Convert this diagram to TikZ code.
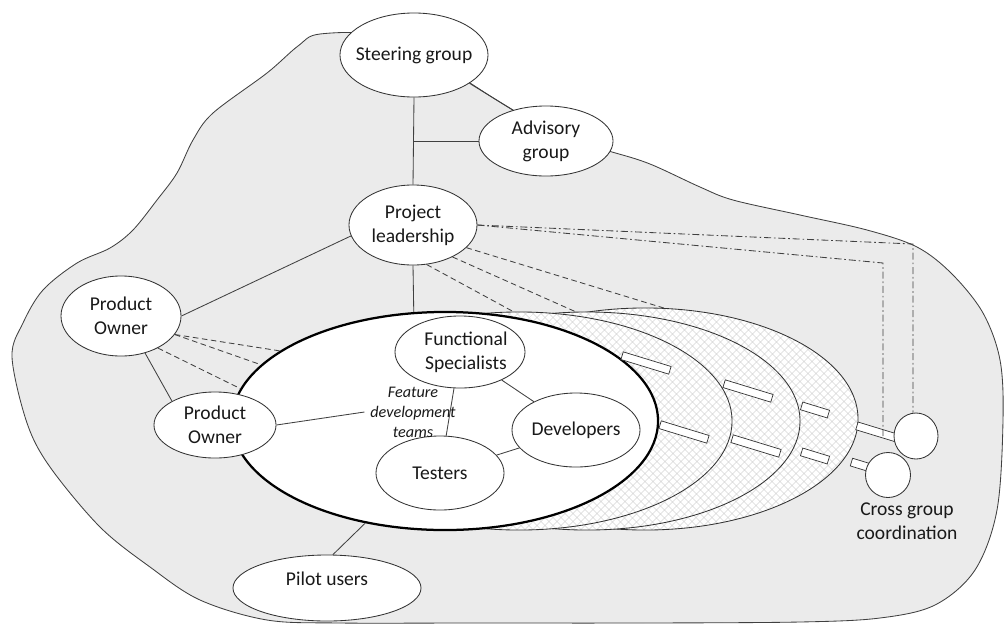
\documentclass[tikz,border=0pt]{standalone}
\usepackage{fontspec}
\setmainfont{Carlito}
\usetikzlibrary{shapes.geometric,patterns.meta}
\newcommand\lblfont{\fontsize{13.9}{17}\selectfont}
\newcommand\ftfont{\fontsize{11.5}{14.2}\selectfont\itshape}
\begin{document}
\begin{tikzpicture}[x=0.025cm,y=-0.025cm,
  bub/.style={ellipse, draw=black!80, fill=white, line width=0.6pt, inner sep=0pt},
  txt/.style={text=black!90, font=\lblfont, align=center, inner sep=0pt},
  conn/.style={draw=black!75, line width=0.6pt},
  dsh/.style={conn, dash pattern=on 4pt off 2.5pt},
  dshdot/.style={conn, dash pattern=on 5pt off 2pt on 1.2pt off 2pt},
  bar/.style={rectangle, draw=black!80, fill=white, line width=0.5pt, minimum height=0.2cm, inner sep=0pt, rotate=-17},
  hatch/.style={ellipse, draw=black!80, line width=0.6pt, inner sep=0pt, minimum width=10.65cm, minimum height=5.45cm,
     preaction={fill=white},
     preaction={pattern={Lines[angle=45,distance=4pt,line width=0.3pt]}, pattern color=black!22},
     pattern={Lines[angle=-45,distance=4pt,line width=0.3pt]}, pattern color=black!22},
  blob/.style={draw=black!75, line width=0.6pt, fill=black!8}
]
\useasboundingbox (0,0) rectangle (1005,626);

% outer region
\draw[blob] plot[smooth cycle, tension=0.55] coordinates {
 (320,34) (384,36) (448,69) (470,83) (491,96.5) (513,110) (560,138) (612,152) (650,164) (700,187) (733,200)
 (800,215) (867,230) (917,247) (952,274) (983,313) (1000,360) (1003,420) (997,510)
 (975,570) (935,605) (880,618) (800,622) (640,623) (470,623) (340,623) (267,620)
 (200,600) (150,567) (100,527) (50,467) (27,423) (12,357) (23,323) (43,290) (77,263)
 (110,248) (133,230) (157,200) (177,173) (193,140) (213,113) (267,73) (298,46)};

% feature team ellipses
\node[hatch, minimum height=5.55cm] (h4) at (645,419) {};
\node[hatch] (h3) at (587,421) {};
\node[hatch] (h2) at (519,421) {};
\node[ellipse, draw=black, fill=white, line width=1.6pt, inner sep=0pt, minimum width=10.65cm, minimum height=5.45cm] (main) at (445,421) {};

% coordination bars
\node[bar, minimum width=1.25cm] (b1) at (646,363) {};
\node[bar, minimum width=1.25cm] (b2) at (684,432) {};
\node[bar, minimum width=1.25cm] (b3) at (748,391) {};
\node[bar, minimum width=1.25cm] (b4) at (756,446) {};
\node[bar, minimum width=0.7cm] (b5) at (815,410) {};
\node[bar, minimum width=0.7cm] (b6) at (815,456) {};
\node[bar, minimum width=1.05cm] (b7) at (877,432) {};
\node[bar, minimum width=0.5cm] (b8) at (861,465) {};

% nodes
\node[bub, minimum width=3.7cm, minimum height=2.1cm, label={[txt]center:Steering group}] (steer) at (414,55) {};
\node[bub, minimum width=3.35cm, minimum height=1.75cm, label={[txt]center:{Advisory\\group}}] (adv) at (546,141) {};
\node[bub, minimum width=3.2cm, minimum height=2.0cm, label={[txt]center:{Project\\leadership}}] (pl) at (413,225) {};
\node[bub, minimum width=3.0cm, minimum height=2.0cm, label={[txt]center:{Product\\Owner}}] (po1) at (121,316) {};
\node[bub, minimum width=3.05cm, minimum height=1.65cm, label={[txt]center:{Product\\Owner}}] (po2) at (215,425) {};
\node[bub, minimum width=4.7cm, minimum height=1.65cm, label={[txt, yshift=0.22cm]center:Pilot users}] (pilot) at (327,588) {};
\node[bub, minimum width=3.25cm, minimum height=1.8cm, label={[txt, xshift=0.15cm]center:{Functional\\Specialists}}] (fs) at (460,352) {};
\node[bub, minimum width=3.2cm, minimum height=1.85cm, label={[txt]center:Developers}] (dev) at (576,430) {};
\node[bub, minimum width=3.2cm, minimum height=1.85cm, label={[txt]center:Testers}] (test) at (440,473) {};
\node[bub, minimum width=1.1cm, minimum height=1.15cm] (cg1) at (916,436) {};
\node[bub, minimum width=1.125cm, minimum height=1.125cm] (cg2) at (888,475) {};
\node[txt] (cgl) at (907,521) {Cross group\\coordination};
\node[txt, font=\ftfont, inner sep=4pt] (fdt) at (413,412) {Feature\\development\\teams};

% solid connectors
\coordinate (j) at (414,141);
\draw[conn] (steer.-27) -- (adv.137);
\draw[conn] (steer.south) -- (pl.north);
\draw[conn] (j) -- (adv.west);
\draw[conn] (po1.east) -- (pl.190);
\draw[conn] (po1.-57) -- (po2.151);
\draw[conn] (pl.south) -- (main.106);
\draw[conn] (po2.east) -- (fdt.west);
\draw[conn] (fs) -- (test);
\draw[conn] (fs) -- (dev);
\draw[conn] (dev) -- (test);
\draw[conn] (pilot.80) -- (main.-128);

% dashed connectors
\draw[dsh] (pl.-23) -- (h4.80);
\draw[dsh] (pl.-39) -- (h3.96);
\draw[dsh] (pl.-71) -- (h2.93);
\draw[dsh] (po1.-19) -- (main.157);
\draw[dsh] (po1.-19) -- (main.163);
\draw[dsh] (po1.-41) -- (main.171);

% dash-dot connectors
\coordinate (ca) at (913,244);
\coordinate (cb) at (883,263);
\coordinate (cbend) at (883,436);
\draw[dshdot] (pl.east) -- (ca) -- (ca |- cg1.north);
\draw[dshdot] (pl.east) -- (cb) -- (cbend);
\end{tikzpicture}
\end{document}
